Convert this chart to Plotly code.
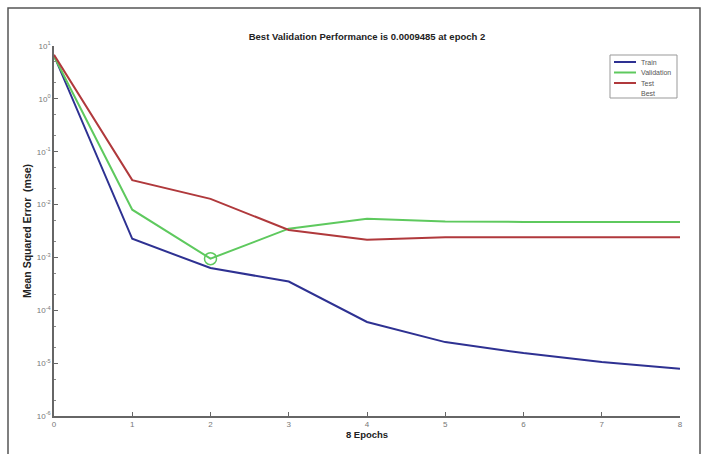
import plotly.graph_objects as go

# Training record: mean squared error per epoch
epochs = [0, 1, 2, 3, 4, 5, 6, 7, 8]
train_mse = [6.6, 2.25e-3, 6.3e-4, 3.5e-4, 6.0e-5, 2.5e-5, 1.55e-5, 1.05e-5, 7.8e-6]
valid_mse = [6.4, 8.0e-3, 0.0009485, 3.5e-3, 5.4e-3, 4.8e-3, 4.7e-3, 4.7e-3, 4.7e-3]
test_mse = [6.8, 2.9e-2, 1.28e-2, 3.3e-3, 2.15e-3, 2.4e-3, 2.4e-3, 2.4e-3, 2.4e-3]

best_epoch = 2
best_value = valid_mse[best_epoch]

series_names = ["Train", "Validation", "Test", "Best"]
series_colors = ["#2E3192", "#5EC95E", "#B0393C", "#5EC95E"]

y_exponents = [1, 0, -1, -2, -3, -4, -5, -6]

FONT = "Liberation Sans Narrow, Arial"

fig = go.Figure()
for name, vals, col in zip(series_names[:3], [train_mse, valid_mse, test_mse], series_colors[:3]):
    fig.add_trace(go.Scatter(x=epochs, y=vals, mode="lines", name=name,
                             line=dict(color=col, width=2)))

fig.add_trace(go.Scatter(x=[best_epoch], y=[best_value], mode="markers", name="Best",
                         marker=dict(symbol="circle-open", size=12,
                                     color=series_colors[3], line=dict(width=1.5))))

W, H = 701, 454
ml, mr, mt, mb = 54, 21, 46, 38
pw, ph = W - ml - mr, H - mt - mb

def px_x(p):
    return (p - ml) / pw

def px_y(p):
    return 1 - (p - mt) / ph

shapes = []
annotations = []

# Outer frame around the figure
shapes.append(dict(type="rect", xref="paper", yref="paper",
                   x0=px_x(8), x1=px_x(700), y0=px_y(460), y1=px_y(8),
                   line=dict(color="#555555", width=1.5), layer="below"))

# Legend box
lx0, lx1, ly0, ly1 = 610, 677, 55, 98
shapes.append(dict(type="rect", xref="paper", yref="paper",
                   x0=px_x(lx0), x1=px_x(lx1), y0=px_y(ly1), y1=px_y(ly0),
                   line=dict(color="#999999", width=1), fillcolor="white"))
for i, (name, col) in enumerate(zip(series_names, series_colors)):
    yy = 62 + i * 10.5
    if i < 3:
        shapes.append(dict(type="line", xref="paper", yref="paper",
                           x0=px_x(614), x1=px_x(636), y0=px_y(yy), y1=px_y(yy),
                           line=dict(color=col, width=2)))
    annotations.append(dict(xref="paper", yref="paper", x=px_x(639), y=px_y(yy),
                            text=name, showarrow=False, xanchor="left", yanchor="middle",
                            font=dict(size=7, color="#555555", family=FONT)))

fig.update_layout(
    width=W, height=H,
    margin=dict(l=ml, r=mr, t=mt, b=mb),
    paper_bgcolor="white", plot_bgcolor="white",
    showlegend=False,
    title=dict(text=f"<b>Best Validation Performance is {best_value} at epoch {best_epoch}</b>",
               x=px_x(367), xref="paper", xanchor="center",
               y=1 - 37 / H, yref="container", yanchor="middle",
               font=dict(size=9.5, color="#222222", family=FONT)),
    xaxis=dict(range=[0, 8], tickvals=epochs, ticks="inside", ticklen=4,
               tickcolor="#666666", showgrid=False, zeroline=False,
               showline=True, linecolor="#666666", linewidth=1.5,
               tickfont=dict(size=8, color="#777777", family=FONT),
               title=dict(text="<b>8 Epochs</b>", standoff=2,
                          font=dict(size=9.5, color="#222222", family=FONT))),
    yaxis=dict(type="log", range=[-6, 1],
               tickvals=[10 ** e for e in y_exponents],
               ticktext=[f"10<sup>{e}</sup>" for e in y_exponents],
               ticks="inside", ticklen=4, tickcolor="#666666",
               minor=dict(ticks="inside", ticklen=2, tickcolor="#888888", showgrid=False),
               showgrid=False, zeroline=False,
               showline=True, linecolor="#666666", linewidth=1.5,
               tickfont=dict(size=8, color="#777777", family=FONT),
               title=dict(text="<b>Mean Squared Error  (mse)</b>", standoff=3,
                          font=dict(size=10.5, color="#222222", family=FONT))),
    shapes=shapes,
    annotations=annotations,
)

fig.write_html("out.html")
